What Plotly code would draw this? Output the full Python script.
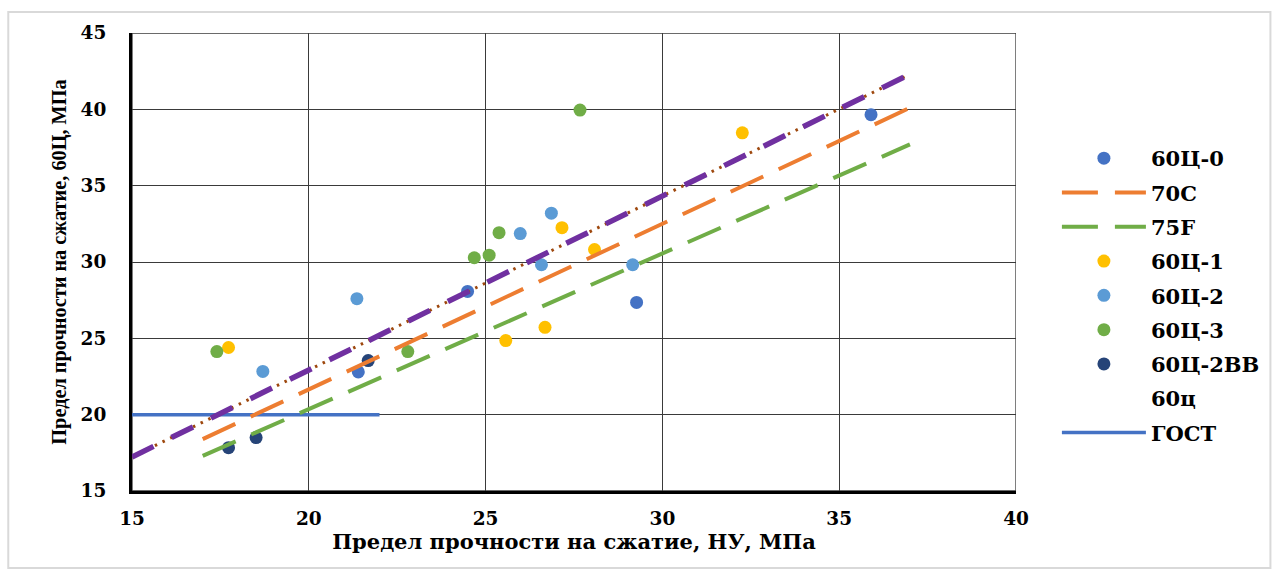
import plotly.graph_objects as go

# ---- data ----
x_ticks = [15, 20, 25, 30, 35, 40]
y_ticks = [15, 20, 25, 30, 35, 40, 45]

s0_x = [35.9, 29.27, 24.49, 21.4]
s0_y = [39.65, 27.35, 28.07, 22.8]

s1_x = [17.73, 25.57, 26.68, 27.16, 28.08, 32.26]
s1_y = [24.4, 24.85, 25.72, 32.25, 30.82, 38.46]

s2_x = [18.70, 21.36, 25.98, 26.86, 26.58, 29.16]
s2_y = [22.83, 27.6, 31.86, 33.2, 29.82, 29.82]

s3_x = [17.40, 22.80, 24.68, 25.10, 25.38, 27.67]
s3_y = [24.13, 24.13, 30.28, 30.45, 31.92, 39.95]

s2bb_x = [17.73, 18.51, 21.68]
s2bb_y = [17.84, 18.5, 23.54]

trend70c_x = [17.0, 37.0]
trend70c_y = [18.4, 40.1]

trend75f_x = [17.0, 37.0]
trend75f_y = [17.3, 37.7]

trend60_x = [15.0, 37.0]
trend60_y = [17.23, 42.3]

gost_x = [15.0, 22.0]
gost_y = [20.0, 20.0]

FONT = "Liberation Serif"
WIDE = "DejaVu Serif"

fig = go.Figure()

# GOST line (drawn first)
fig.add_trace(go.Scatter(x=gost_x, y=gost_y, mode="lines", name="ГОСТ",
                         line=dict(color="#4472C4", width=3.5),
                         legendgroup="g9", legendrank=9))

def pts(x, y, name, color, rank):
    fig.add_trace(go.Scatter(x=x, y=y, mode="markers", name=name,
                             marker=dict(color=color, size=13),
                             legendgroup="g%d" % rank, legendrank=rank))

pts(s0_x, s0_y, "60Ц-0", "#4472C4", 1)
pts(s1_x, s1_y, "60Ц-1", "#FFC000", 4)
pts(s2_x, s2_y, "60Ц-2", "#5B9BD5", 5)
pts(s3_x, s3_y, "60Ц-3", "#70AD47", 6)
pts(s2bb_x, s2bb_y, "60Ц-2BB", "#264478", 7)

# invisible legend entry "60ц"
fig.add_trace(go.Scatter(x=[None], y=[None], mode="markers", name="60ц",
                         marker=dict(color="rgba(0,0,0,0)", size=13),
                         legendgroup="g8", legendrank=8))

# trend lines
fig.add_trace(go.Scatter(x=trend70c_x, y=trend70c_y, mode="lines", name="70C",
                         line=dict(color="#ED7D31", width=4, dash="36px,17px"),
                         legendgroup="g2", legendrank=2))
fig.add_trace(go.Scatter(x=trend75f_x, y=trend75f_y, mode="lines", name="75F",
                         line=dict(color="#70AD47", width=4, dash="36px,17px"),
                         legendgroup="g3", legendrank=3))
fig.add_trace(go.Scatter(x=trend60_x, y=trend60_y, mode="lines", name="60ц тренд",
                         line=dict(color="#9E480E", width=3, dash="2.5px,6px"),
                         showlegend=False))
fig.add_trace(go.Scatter(x=trend60_x, y=trend60_y, mode="lines", name="60ц тренд",
                         line=dict(color="#7030A0", width=5.5, dash="24px,20px"),
                         showlegend=False))

L, R, T, B = 132, 1277 - 1018, 33, 574 - 491
PW, PH = 1277 - L - R, 574 - T - B

axis_common = dict(
    showgrid=True, gridcolor="#3a3a3a", gridwidth=1.3,
    showline=True, linecolor="black", linewidth=3,
    zeroline=False, ticks="",
    tickfont=dict(family=WIDE, size=18.5, color="black", weight="bold"),
)

fig.update_xaxes(range=[15, 40], tickvals=x_ticks, ticklabelstandoff=9,
                 title=dict(text="Предел прочности на сжатие, НУ, МПа",
                            font=dict(family=WIDE, size=21, color="black", weight="bold"),
                            standoff=5),
                 **axis_common)
fig.update_yaxes(range=[15, 45], tickvals=y_ticks, ticklabelstandoff=19,
                 title=dict(text="Предел прочности на сжатие, 60Ц, МПа",
                            font=dict(family=FONT, size=20.3, color="black", weight="bold"),
                            standoff=9),
                 **axis_common)

# outer light-gray frame
fig.add_shape(type="rect", xref="paper", yref="paper",
              x0=(8 - L) / PW, x1=(1273 - L) / PW,
              y0=-(568 - T - PH) / PH, y1=1 + (T - 12) / PH,
              line=dict(color="#D9D9D9", width=2), layer="below")
# top/right thin borders
fig.add_shape(type="rect", xref="x", yref="y", x0=15, x1=40, y0=15, y1=45,
              line=dict(color="#3a3a3a", width=1.3), layer="below")

LEG_TOP = 138
fig.update_layout(
    width=1277, height=574,
    margin=dict(l=L, r=R, t=T, b=B),
    paper_bgcolor="white", plot_bgcolor="white",
    font=dict(family=FONT, color="black"),
    legend=dict(x=(1059 - L) / PW, xanchor="left", y=(574 - B - LEG_TOP) / PH,
                yanchor="top", font=dict(family=WIDE, size=21, color="black", weight="bold"),
                itemwidth=84, tracegroupgap=4, traceorder="grouped",
                bgcolor="rgba(0,0,0,0)"),
)

fig.write_html("out.html", config={"displayModeBar": False},
               post_script="document.body.style.margin='0';")
